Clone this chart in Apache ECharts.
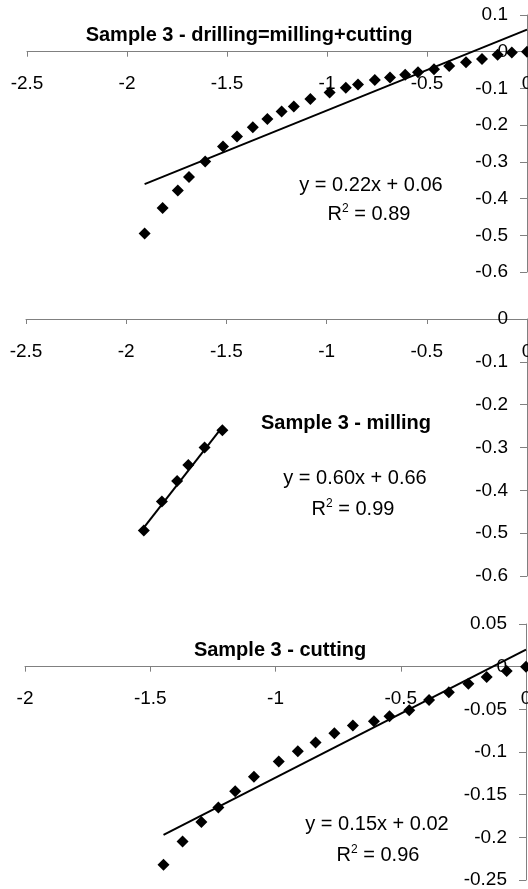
<!DOCTYPE html>
<html>
<head>
<meta charset="utf-8">
<script src="https://cdn.jsdelivr.net/npm/echarts@6/dist/echarts.min.js"></script>
<style>
html,body{margin:0;padding:0;background:#fff;}
#wrap{position:relative;width:528px;height:889px;background:#fff;}
.pane{position:absolute;left:0;top:0;width:528px;height:889px;}
</style>
</head>
<body>
<div id="wrap"></div>
<script>
// ---- data ----
var drillX = [-1.912,-1.822,-1.746,-1.690,-1.609,-1.520,-1.450,-1.371,-1.298,-1.227,-1.166,-1.083,-0.987,-0.906,-0.845,-0.761,-0.685,-0.609,-0.545,-0.465,-0.389,-0.305,-0.225,-0.147,-0.076,0];
var drillY = [-0.495,-0.426,-0.378,-0.341,-0.299,-0.258,-0.231,-0.206,-0.183,-0.163,-0.149,-0.129,-0.111,-0.098,-0.089,-0.077,-0.070,-0.063,-0.056,-0.048,-0.039,-0.029,-0.020,-0.008,-0.002,0];
var millX = [-1.912,-1.822,-1.746,-1.690,-1.609,-1.520];
var millY = [-0.494,-0.426,-0.378,-0.341,-0.300,-0.260];
var cutX = [-1.447,-1.371,-1.296,-1.228,-1.161,-1.086,-0.987,-0.911,-0.840,-0.765,-0.691,-0.607,-0.545,-0.466,-0.387,-0.308,-0.230,-0.157,-0.077,0];
var cutY = [-0.232,-0.205,-0.182,-0.165,-0.146,-0.129,-0.111,-0.099,-0.089,-0.078,-0.069,-0.064,-0.058,-0.051,-0.039,-0.030,-0.020,-0.012,-0.005,0];
var titles = ['Sample 3 - drilling=milling+cutting','Sample 3 - milling','Sample 3 - cutting'];
var slopes = [0.22, 0.60, 0.15];
var intercepts = [0.06, 0.66, 0.02];
var r2 = ['0.89','0.99','0.96'];
var xMin = [-2.5,-2.5,-2];
var xInt = [0.5,0.5,0.5];
var yMin = [-0.6,-0.6,-0.25];
var yMax = [0.1,0,0.05];
var yInt = [0.1,0.1,0.05];

var W = 528;
var FONT = 'Liberation Sans, Arial, Helvetica, sans-serif';
var grids = [
  {left:27, right:1, top:15, height:257},
  {left:26, right:1, top:319, height:257},
  {left:25, right:2, top:624, height:256}
];
// text anchor positions: [title, equation, R2]
var textPos = [
  [[249,35],[371,185],[369,214]],
  [[346,423],[355,478],[353,509]],
  [[280,650],[377,824],[378,855]]
];
var sets = [[drillX,drillY],[millX,millY],[cutX,cutY]];
function pairs(xs, ys){ return xs.map(function(v,i){return [v, ys[i]];}); }
function fmt(v){ return String(Math.round(v*1000)/1000); }
function eq(k){ return 'y = '+slopes[k].toFixed(2)+'x + '+intercepts[k].toFixed(2); }
function txt(p,text,bold,size){
  return {type:'text', x:p[0], y:p[1], z:10, style:{text:text, fill:'#000', font:(bold?'bold ':'')+size+'px '+FONT, align:'center', verticalAlign:'middle'}};
}
function rtxt(p,val){
  return {type:'text', x:p[0], y:p[1], z:10, style:{text:'R{s|2} = '+val, fill:'#000', font:'20px '+FONT, align:'center', verticalAlign:'middle',
    rich:{s:{fontSize:12, fontFamily:FONT, fill:'#000', padding:[0,0,10,0]}}}};
}

var wrap = document.getElementById('wrap');
for (var k=0;k<3;k++){
  var div = document.createElement('div');
  div.className = 'pane';
  wrap.appendChild(div);
  var chart = echarts.init(div, null, {renderer:'canvas'});
  var g = grids[k];
  var upFromBottom = g.height * (0 - yMin[k]) / (yMax[k] - yMin[k]);
  var gridWidth = W - g.left - g.right;
  var xs = sets[k][0], ys = sets[k][1];
  var x0 = Math.min.apply(null, xs), x1 = Math.max.apply(null, xs);
  chart.setOption({
    animation:false,
    grid:[{left:g.left, right:g.right, top:g.top, height:g.height, outerBoundsMode:'none', containLabel:false}],
    xAxis:[{
      type:'value', min:xMin[k], max:0, interval:xInt[k],
      position:'bottom', offset:-upFromBottom,
      axisLine:{show:true, onZero:false, lineStyle:{color:'#808080', width:1}},
      axisTick:{show:true, length:5, lineStyle:{color:'#808080'}},
      splitLine:{show:false},
      axisLabel:{color:'#000', fontSize:19, fontFamily:FONT, margin:23, hideOverlap:false, formatter:fmt}
    }],
    yAxis:[{
      type:'value', min:yMin[k], max:yMax[k], interval:yInt[k],
      position:'left', offset:-gridWidth,
      axisLine:{show:true, onZero:false, lineStyle:{color:'#808080', width:1}},
      axisTick:{show:true, length:7, lineStyle:{color:'#808080'}},
      splitLine:{show:false},
      axisLabel:{color:'#000', fontSize:19, fontFamily:FONT, margin:19, hideOverlap:false, formatter:fmt}
    }],
    series:[
      {type:'line', symbol:'none', silent:true, lineStyle:{color:'#000', width:2},
       data:[[x0, slopes[k]*x0+intercepts[k]],[x1, slopes[k]*x1+intercepts[k]]], z:2},
      {type:'scatter', symbol:'diamond', symbolSize:12, itemStyle:{color:'#000', opacity:1},
       data:pairs(xs, ys), z:3}
    ],
    graphic:[
      txt(textPos[k][0], titles[k], true, 20),
      txt(textPos[k][1], eq(k), false, 20),
      rtxt(textPos[k][2], r2[k])
    ]
  });
}
</script>
</body>
</html>
